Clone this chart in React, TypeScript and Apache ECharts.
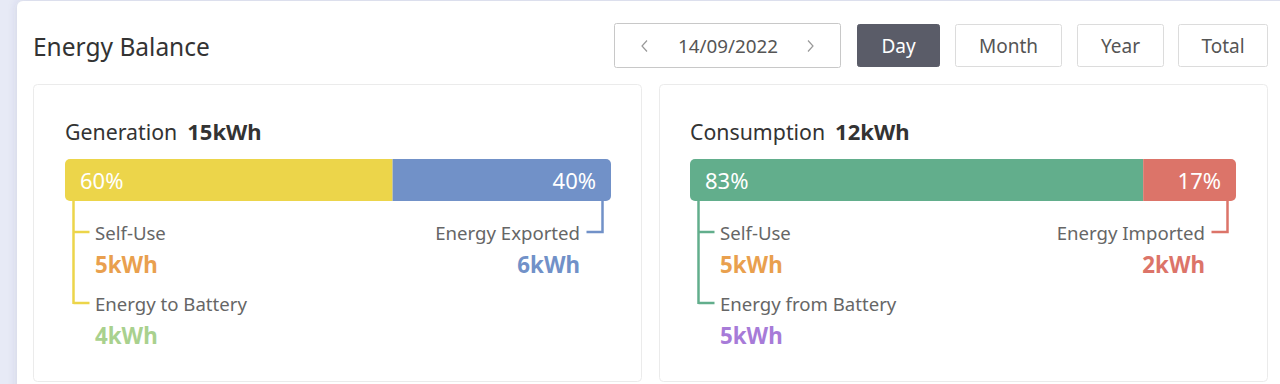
import React, { useEffect, useRef } from "react";
import * as echarts from "echarts";

const TITLE = "Energy Balance";
const DATE_LABEL = "14/09/2022";
const PERIODS = ["Day", "Month", "Year", "Total"];
const ACTIVE_PERIOD = "Day";

const GEN_TITLE = "Generation";
const GEN_TOTAL_KWH = 15;
const GEN_SHARE = [60, 40]; // self-consumed, exported (%)
const GEN_LABELS = ["Self-Use", "Energy to Battery", "Energy Exported"];
const GEN_KWH = [5, 4, 6];

const CONS_TITLE = "Consumption";
const CONS_TOTAL_KWH = 12;
const CONS_SHARE = [83, 17]; // self-supplied, imported (%)
const CONS_LABELS = ["Self-Use", "Energy from Battery", "Energy Imported"];
const CONS_KWH = [5, 5, 2];

const FONT = '"Noto Sans", "Open Sans", sans-serif';
const C = {
  yellow: "#ecd54a",
  blue: "#7191c8",
  green: "#62ae8c",
  red: "#dc7469",
  orange: "#e9a04e",
  lightGreen: "#a9d18e",
  purple: "#a77bd8",
  label: "#666666",
  dark: "#333333",
};

function txt(x: number, y: number, text: string, size: number, fill: string, opts: any = {}) {
  return {
    type: "text",
    z: 20,
    silent: true,
    style: {
      x,
      y,
      text,
      fill,
      font: `${opts.weight || "normal"} ${size}px ${FONT}`,
      align: opts.align || "left",
      verticalAlign: "middle",
    },
  };
}

function line(points: number[][], color: string, width = 2.5) {
  return {
    type: "polyline",
    z: 20,
    silent: true,
    shape: { points },
    style: { stroke: color, lineWidth: width, fill: null },
  };
}

function card(x: number) {
  return {
    type: "rect",
    z: 1,
    silent: true,
    shape: { x: x + 0.5, y: 84.5, width: 608, height: 297, r: 4 },
    style: { fill: "#ffffff", stroke: "#ebebeb", lineWidth: 1 },
  };
}

function cardContent(
  left: number,
  title: string,
  total: number,
  labels: string[],
  kwh: number[],
  barColor: string,
  endColor: string,
  valColors: string[]
) {
  const right = left + 546;
  const lx = left + 8.5;
  const tx = left + 30;
  const rx = right - 8.5;
  return [
    {
      type: "text",
      z: 20,
      silent: true,
      style: {
        x: left,
        y: 131,
        text: `{a|${title}}{b|${total}kWh}`,
        verticalAlign: "middle",
        rich: {
          a: { fill: C.dark, fontSize: 21.3, fontFamily: FONT },
          b: { fill: C.dark, fontSize: 22, fontFamily: FONT, fontWeight: "bold", padding: [0, 0, 0, 10] },
        },
      },
    },
    line([[lx, 201], [lx, 304]], barColor),
    line([[lx, 232], [lx + 16, 232]], barColor),
    line([[lx, 303], [lx + 16, 303]], barColor),
    txt(tx, 232, labels[0], 18.6, C.label),
    txt(tx, 264, `${kwh[0]}kWh`, 22.3, valColors[0], { weight: "bold" }),
    txt(tx, 303, labels[1], 18.6, C.label),
    txt(tx, 335, `${kwh[1]}kWh`, 22.3, valColors[1], { weight: "bold" }),
    line([[rx, 201], [rx, 232], [rx - 16, 232]], endColor),
    txt(right - 31, 232, labels[2], 18.6, C.label, { align: "right" }),
    txt(right - 31, 264, `${kwh[2]}kWh`, 22.3, valColors[2], { weight: "bold", align: "right" }),
  ];
}

function header() {
  const els: any[] = [
    {
      type: "rect",
      z: 0,
      silent: true,
      shape: { x: 17, y: 1, width: 1300, height: 420, r: 6 },
      style: { fill: "#ffffff", shadowBlur: 10, shadowColor: "rgba(60,70,120,0.15)" },
    },
    txt(33, 46, TITLE, 24.5, C.dark),
    {
      type: "rect",
      z: 1,
      silent: true,
      shape: { x: 614.5, y: 23.5, width: 226, height: 44, r: 2 },
      style: { fill: "#fff", stroke: "#c8c8c8", lineWidth: 1 },
    },
    line([[647, 40.5], [642, 46], [647, 51.5]], "#999", 1.2),
    line([[808, 40.5], [813, 46], [808, 51.5]], "#999", 1.2),
    txt(728, 46, DATE_LABEL, 18.8, "#555", { align: "center" }),
  ];
  const btns = [
    [857, 82],
    [955, 106],
    [1077, 86],
    [1178, 89],
  ];
  PERIODS.forEach((p, i) => {
    const [bx, bw] = btns[i];
    const active = p === ACTIVE_PERIOD;
    els.push({
      type: "rect",
      z: 1,
      silent: true,
      shape: { x: bx + 0.5, y: 24.5, width: bw, height: 42, r: 2 },
      style: active
        ? { fill: "#5a5c68", stroke: "#5a5c68", lineWidth: 1 }
        : { fill: "#fff", stroke: "#dcdcdc", lineWidth: 1 },
    });
    els.push(txt(bx + bw / 2 + 0.5, 46, p, 19, active ? "#ffffff" : "#555", { align: "center" }));
  });
  return els;
}

function barSeries(idx: number, stack: string, value: number, color: string, first: boolean) {
  return {
    type: "bar",
    xAxisIndex: idx,
    yAxisIndex: idx,
    stack,
    silent: true,
    barWidth: 42,
    data: [value],
    itemStyle: { color, borderRadius: first ? [5, 0, 0, 5] : [0, 5, 5, 0] },
    label: {
      show: true,
      position: first ? "insideLeft" : "insideRight",
      distance: 15,
      formatter: "{c}%",
      color: "#ffffff",
      fontSize: 22,
      fontFamily: FONT,
    },
    z: 5,
  };
}

export default function App() {
  const ref = useRef<HTMLDivElement>(null);
  useEffect(() => {
    if (!ref.current) return;
    const chart = echarts.init(ref.current, undefined, { renderer: "svg" });
    chart.setOption({
      animation: false,
      backgroundColor: "#e7eaf6",
      grid: [
        { left: 65, top: 159, width: 546, height: 42 },
        { left: 690, top: 159, width: 546, height: 42 },
      ],
      xAxis: [
        { type: "value", gridIndex: 0, min: 0, max: 100, show: false },
        { type: "value", gridIndex: 1, min: 0, max: 100, show: false },
      ],
      yAxis: [
        { type: "category", gridIndex: 0, data: [GEN_TITLE], show: false },
        { type: "category", gridIndex: 1, data: [CONS_TITLE], show: false },
      ],
      series: [
        barSeries(0, "gen", GEN_SHARE[0], C.yellow, true),
        barSeries(0, "gen", GEN_SHARE[1], C.blue, false),
        barSeries(1, "cons", CONS_SHARE[0], C.green, true),
        barSeries(1, "cons", CONS_SHARE[1], C.red, false),
      ],
      graphic: [
        ...header(),
        card(33),
        card(659),
        ...cardContent(65, GEN_TITLE, GEN_TOTAL_KWH, GEN_LABELS, GEN_KWH, C.yellow, C.blue, [
          C.orange,
          C.lightGreen,
          C.blue,
        ]),
        ...cardContent(690, CONS_TITLE, CONS_TOTAL_KWH, CONS_LABELS, CONS_KWH, C.green, C.red, [
          C.orange,
          C.purple,
          C.red,
        ]),
      ],
    });
    return () => chart.dispose();
  }, []);
  return (
    <div
      ref={ref}
      style={{ position: "fixed", left: 0, top: 0, width: 1280, height: 384 }}
    />
  );
}
